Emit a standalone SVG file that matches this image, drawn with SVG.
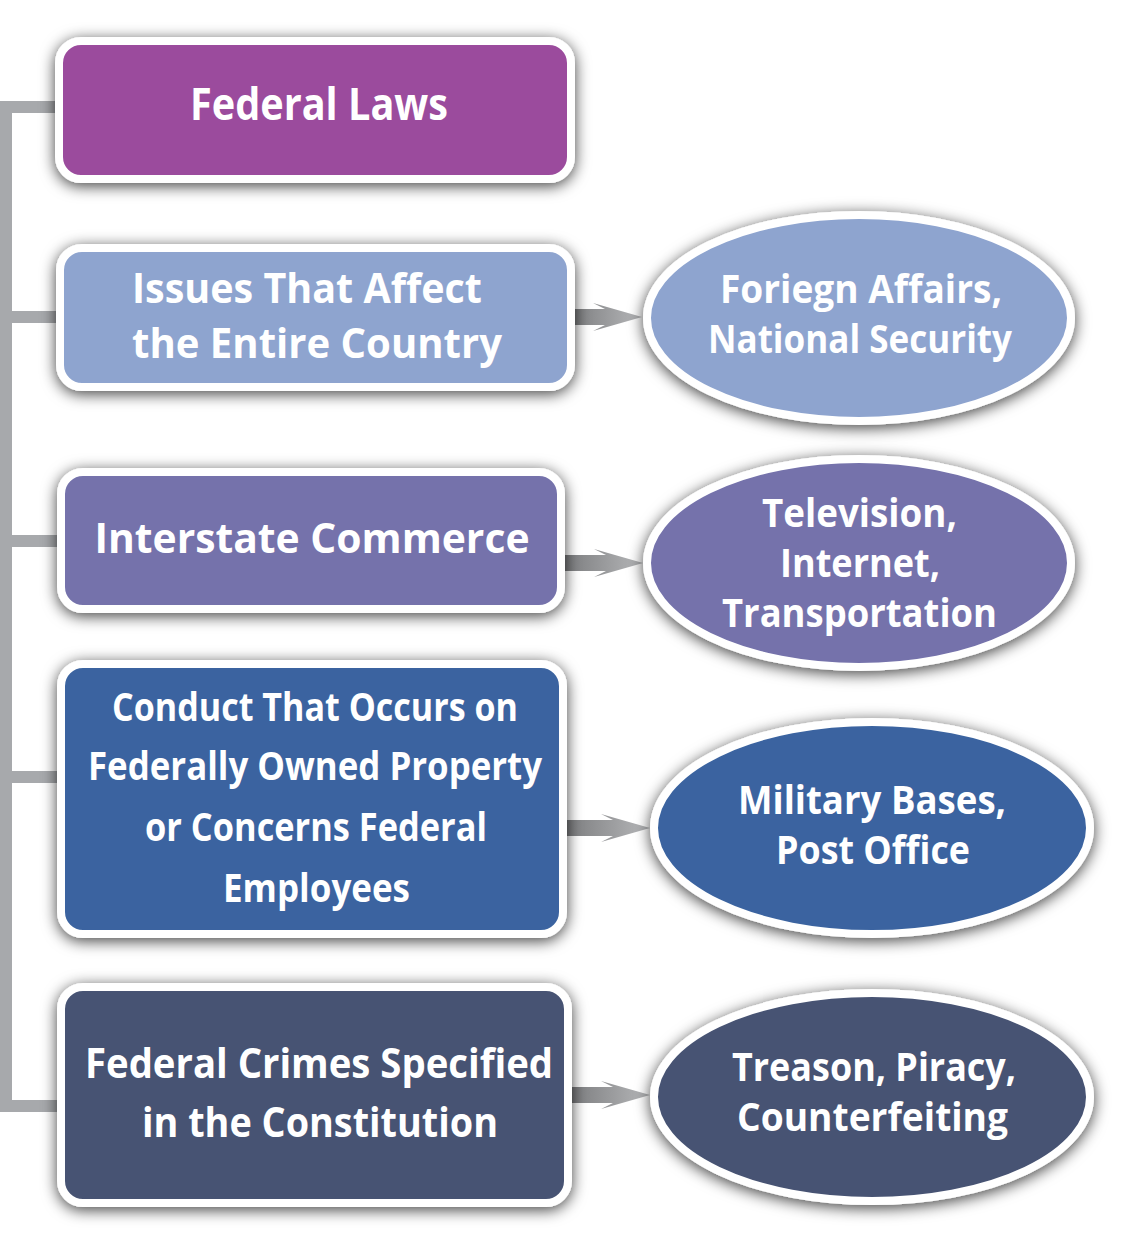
<svg xmlns="http://www.w3.org/2000/svg" width="1135" height="1250" viewBox="0 0 1135 1250">
  <defs>
    <filter id="sh" x="-12%" y="-20%" width="124%" height="145%">
      <feDropShadow dx="0" dy="3" stdDeviation="7.5" flood-color="#000" flood-opacity="0.75"/>
    </filter>
    <linearGradient id="ag" x1="0" y1="0" x2="1" y2="0">
      <stop offset="0" stop-color="#7c7d7f"/>
      <stop offset="1" stop-color="#b6b7b9"/>
    </linearGradient>
    <style>
      .box { stroke: #ffffff; stroke-width: 8; }
      .t { font-family: "Open Sans", "Noto Sans", sans-serif; font-weight: 700; fill: #ffffff; text-anchor: middle; }
      .tb { font-size: 42px; }
      .tc { font-size: 40px; }
      .te { font-size: 39px; }
      .conn { fill: none; stroke: #a7a9ac; stroke-width: 12; stroke-linejoin: miter; stroke-linecap: butt; }
      .arr { fill: url(#ag); }
    </style>
  </defs>

  <g id="connectors">
    <path class="conn" d="M60 107 H6 V1106 H60"/>
    <path class="conn" d="M6 317 H60 M6 541 H60 M6 777 H60"/>
    <path class="arr" d="M570 309 H605 L593 303 L642 317 L593 331 L605 325 H570 Z"/>
    <path class="arr" d="M565 555 H606 L594 549 L643 563 L594 577 L606 571 H565 Z"/>
    <path class="arr" d="M565 820 H613 L601 814 L650 828 L601 842 L613 836 H565 Z"/>
    <path class="arr" d="M570 1087 H613 L601 1081 L650 1095 L601 1109 L613 1103 H570 Z"/>
  </g>

  <g id="federal-laws">
    <rect class="box" filter="url(#sh)" x="59" y="41" width="512" height="138" rx="22" fill="#9b4c9d"/>
    <text class="t" x="319" y="120" font-size="44" textLength="258" lengthAdjust="spacingAndGlyphs">Federal Laws</text>
  </g>

  <g id="issues">
    <rect class="box" filter="url(#sh)" x="60" y="248" width="511" height="139" rx="22" fill="#8ea4cf"/>
    <text class="t tb" x="307" y="303" textLength="350" lengthAdjust="spacingAndGlyphs">Issues That Affect</text>
    <text class="t tb" x="317" y="358" textLength="370" lengthAdjust="spacingAndGlyphs">the Entire Country</text>
  </g>

  <g id="interstate">
    <rect class="box" filter="url(#sh)" x="61" y="472" width="500" height="137" rx="22" fill="#7472ab"/>
    <text class="t tb" x="312" y="553" textLength="435" lengthAdjust="spacingAndGlyphs">Interstate Commerce</text>
  </g>

  <g id="conduct">
    <rect class="box" filter="url(#sh)" x="61" y="664" width="502" height="270" rx="22" fill="#3b64a0"/>
    <text class="t tc" x="315" y="721" textLength="406" lengthAdjust="spacingAndGlyphs">Conduct That Occurs on</text>
    <text class="t tc" x="315" y="780" textLength="454" lengthAdjust="spacingAndGlyphs">Federally Owned Property</text>
    <text class="t tc" x="316" y="841" textLength="342" lengthAdjust="spacingAndGlyphs">or Concerns Federal</text>
    <text class="t tc" x="316.5" y="902" textLength="187" lengthAdjust="spacingAndGlyphs">Employees</text>
  </g>

  <g id="crimes">
    <rect class="box" filter="url(#sh)" x="61" y="987" width="507" height="216" rx="22" fill="#475373"/>
    <text class="t tb" x="319" y="1078" textLength="468" lengthAdjust="spacingAndGlyphs">Federal Crimes Specified</text>
    <text class="t tb" x="320" y="1137" textLength="356" lengthAdjust="spacingAndGlyphs">in the Constitution</text>
  </g>

  <g id="foreign">
    <ellipse class="box" filter="url(#sh)" cx="859" cy="318" rx="212" ry="103" fill="#8ea4cf"/>
    <text class="t te" x="861" y="303" textLength="282" lengthAdjust="spacingAndGlyphs">Foriegn Affairs,</text>
    <text class="t te" x="860" y="353" textLength="304" lengthAdjust="spacingAndGlyphs">National Security</text>
  </g>

  <g id="television">
    <ellipse class="box" filter="url(#sh)" cx="859" cy="563" rx="212" ry="104" fill="#7472ab"/>
    <text class="t te" x="859.5" y="527" textLength="195" lengthAdjust="spacingAndGlyphs">Television,</text>
    <text class="t te" x="860" y="577" textLength="160" lengthAdjust="spacingAndGlyphs">Internet,</text>
    <text class="t te" x="859.5" y="627" textLength="275" lengthAdjust="spacingAndGlyphs">Transportation</text>
  </g>

  <g id="military">
    <ellipse class="box" filter="url(#sh)" cx="872" cy="828" rx="218" ry="106" fill="#3b64a0"/>
    <text class="t te" x="872" y="814" textLength="268" lengthAdjust="spacingAndGlyphs">Military Bases,</text>
    <text class="t te" x="873" y="864" textLength="194" lengthAdjust="spacingAndGlyphs">Post Office</text>
  </g>

  <g id="treason">
    <ellipse class="box" filter="url(#sh)" cx="872" cy="1097" rx="218" ry="104" fill="#475373"/>
    <text class="t te" x="874" y="1081" textLength="284" lengthAdjust="spacingAndGlyphs">Treason, Piracy,</text>
    <text class="t te" x="872.5" y="1131" textLength="271" lengthAdjust="spacingAndGlyphs">Counterfeiting</text>
  </g>
</svg>
